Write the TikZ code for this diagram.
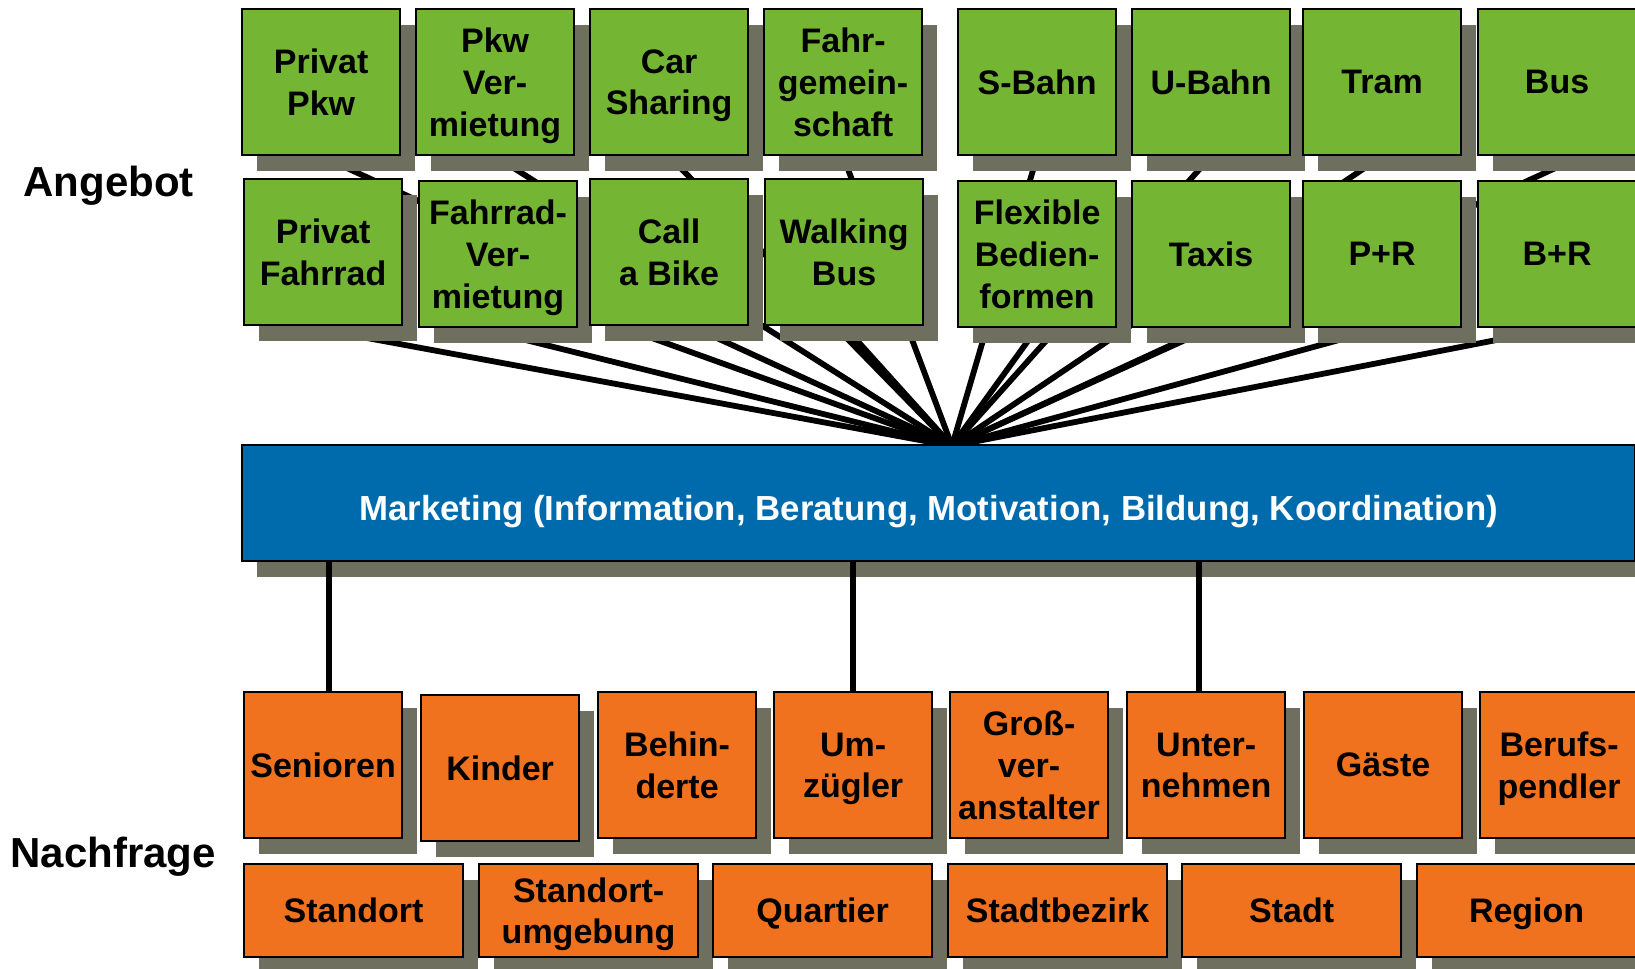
\documentclass[tikz,border=0pt]{standalone}
\usepackage{fontspec}
\setmainfont{Liberation Sans}
\usetikzlibrary{shadows,backgrounds}
\definecolor{grn}{RGB}{117,181,52}
\definecolor{org}{RGB}{240,114,30}
\definecolor{blu}{RGB}{0,107,172}
\definecolor{shd}{RGB}{111,111,96}
\begin{document}
\begin{tikzpicture}[x=0.5pt,y=-0.5pt,
  box/.style={draw=black, line width=1.1pt, anchor=north west, inner sep=0pt, align=center,
    text depth=0pt,
    font=\fontsize{17}{20.8}\selectfont\bfseries,
    drop shadow={fill=shd, opacity=1, shadow xshift=7.5pt, shadow yshift=-8pt}},
  gbox/.style={box, fill=grn, minimum width=79pt, minimum height=73pt},
  obox/.style={box, fill=org, minimum width=79pt, minimum height=73pt},
  wbox/.style={box, fill=org, minimum width=109.5pt, minimum height=46.5pt},
  mbox/.style={box, fill=blu, text=white, minimum width=696.5pt, minimum height=58pt,
    text height=17pt, font=\fontsize{17.4}{21}\selectfont\bfseries},
  side/.style={anchor=base west, inner sep=0pt, font=\fontsize{21}{25}\selectfont\bfseries},
  fan/.style={line width=2.9pt},
  vline/.style={line width=2.8pt}]
\useasboundingbox (0,0) rectangle (1635,969);
% Angebot, upper row
\node[gbox] (pp) at (241,8) {Privat\\Pkw};
\node[gbox] (pv) at (415,8) {Pkw\\Ver-\\mietung};
\node[gbox] (cs) at (589,8) {Car\\Sharing};
\node[gbox] (fg) at (763,8) {Fahr-\\gemein-\\schaft};
\node[gbox] (sb) at (957,8) {S-Bahn};
\node[gbox] (ub) at (1131,8) {U-Bahn};
\node[gbox] (tr) at (1302,8) {Tram};
\node[gbox] (bu) at (1477,8) {Bus};
% Angebot, lower row
\node[gbox] (pf) at (243,178) {Privat\\Fahrrad};
\node[gbox] (fv) at (418,180) {Fahrrad-\\Ver-\\mietung};
\node[gbox] (cb) at (589,178) {Call\\a Bike};
\node[gbox] (wb) at (764,178) {Walking\\Bus};
\node[gbox] (fl) at (957,180) {Flexible\\Bedien-\\formen};
\node[gbox] (tx) at (1131,180) {Taxis};
\node[gbox] (pr) at (1302,180) {P+R};
\node[gbox] (br) at (1477,180) {B+R};
% Marketing
\node[mbox] (mk) at (241,444) {Marketing (Information, Beratung, Motivation, Bildung, Koordination)\hspace*{10pt}};
% Nachfrage, upper row
\node[obox] (se) at (243,691) {Senioren};
\node[obox] (ki) at (420,694) {Kinder};
\node[obox] (be) at (597,691) {Behin-\\derte};
\node[obox] (um) at (773,691) {Um-\\zügler};
\node[obox] (gr) at (949,691) {Groß-\\ver-\\anstalter};
\node[obox] (un) at (1126,691) {Unter-\\nehmen};
\node[obox] (ga) at (1303,691) {Gäste};
\node[obox] (bp) at (1479,691) {Berufs-\\pendler};
% Nachfrage, lower row
\node[wbox] (so) at (243,863) {Standort};
\node[wbox] (su) at (478,863) {Standort-\\umgebung};
\node[wbox] (qu) at (712,863) {Quartier};
\node[wbox] (sbz) at (947,863) {Stadtbezirk};
\node[wbox] (st) at (1181,863) {Stadt};
\node[wbox] (re) at (1416,863) {Region};
% side labels
\node[side] (ang) at (23,196) {Angebot};
\node[side] (nach) at (10,867) {Nachfrage};
% fan of connectors
\coordinate (F) at (952,446);
\begin{scope}[on background layer]
  \foreach \n in {pp,pv,cs,fg,sb,ub,tr,wb,fl,tx,pr,br}
    \draw[fan] (\n.south) -- (F);
  \draw[fan] ([xshift=12pt]bu.south) -- (F);
  \draw[fan] ([xshift=-10pt]pf.south) -- (F);
  \draw[fan] ([xshift=-10pt]fv.south) -- (F);
  \draw[fan] ([xshift=-25pt]cb.south) -- (F);
\end{scope}
% connectors to Nachfrage
\draw[vline] ([xshift=3pt]se.north) -- ([xshift=3pt]se.north |- mk.south);
\draw[vline] (um.north) -- (um.north |- mk.south);
\draw[vline] ([xshift=-3.5pt]un.north) -- ([xshift=-3.5pt]un.north |- mk.south);
\end{tikzpicture}
\end{document}
